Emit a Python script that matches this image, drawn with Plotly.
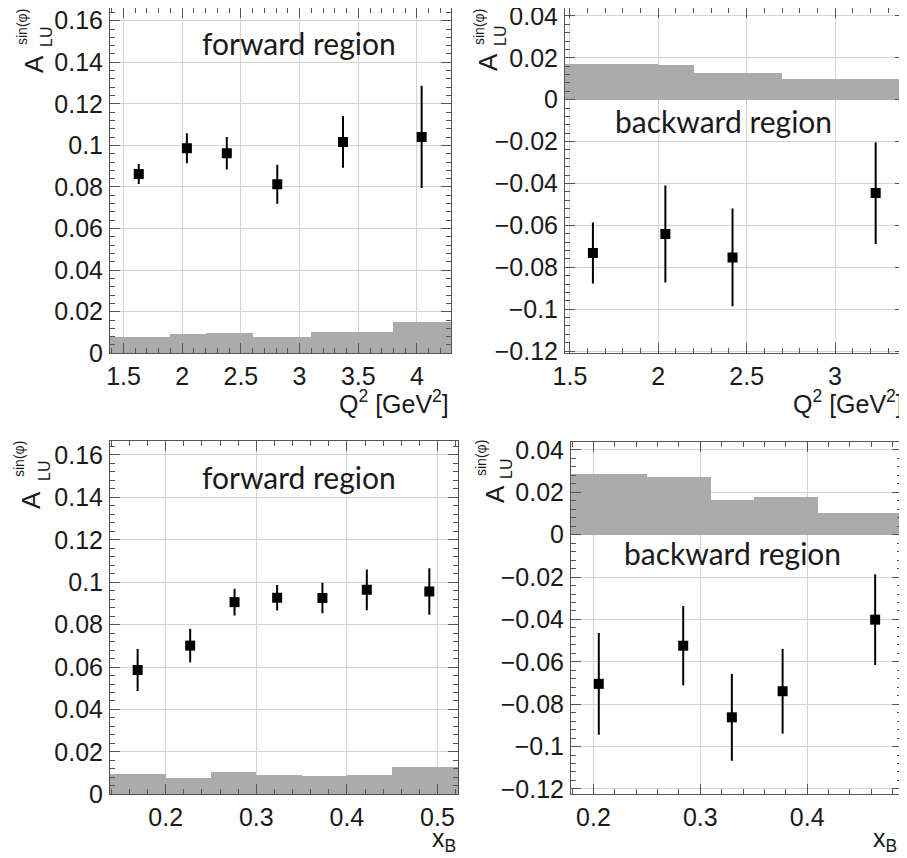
import numpy as np
import plotly.graph_objects as go

W, H = 907, 858
OFF = 8  # default page body margin in the browser

# ---------------- data ----------------
# Panel 1: forward region vs Q^2
q2_fwd_x = [1.63, 2.04, 2.38, 2.81, 3.37, 4.04]
q2_fwd_y = [0.0862, 0.0986, 0.0962, 0.0813, 0.1017, 0.1041]
q2_fwd_err = [0.0048, 0.0072, 0.0078, 0.0094, 0.0124, 0.0246]
q2_fwd_sys_edges = [1.38, 1.9, 2.2, 2.6, 3.1, 3.8, 4.3]
q2_fwd_sys = [0.0077, 0.0094, 0.0097, 0.0080, 0.0104, 0.0149]

# Panel 2: backward region vs Q^2
q2_bwd_x = [1.63, 2.04, 2.42, 3.23]
q2_bwd_y = [-0.0732, -0.0641, -0.0753, -0.0446]
q2_bwd_err = [0.0146, 0.0232, 0.0233, 0.0243]
q2_bwd_sys_edges = [1.46, 2.0, 2.2, 2.7, 3.41]
q2_bwd_sys = [0.0171, 0.0165, 0.0127, 0.0101]

# Panel 3: forward region vs xB
xb_fwd_x = [0.169, 0.227, 0.276, 0.323, 0.373, 0.422, 0.491]
xb_fwd_y = [0.0586, 0.0701, 0.0906, 0.0927, 0.0925, 0.0964, 0.0956]
xb_fwd_err = [0.0099, 0.0079, 0.0063, 0.0060, 0.0072, 0.0096, 0.0110]
xb_fwd_sys_edges = [0.137, 0.2, 0.25, 0.3, 0.35, 0.4, 0.45, 0.525]
xb_fwd_sys = [0.0099, 0.0078, 0.0107, 0.0091, 0.0086, 0.0094, 0.0130]

# Panel 4: backward region vs xB
xb_bwd_x = [0.205, 0.284, 0.3295, 0.377, 0.4636]
xb_bwd_y = [-0.0704, -0.0524, -0.0862, -0.0739, -0.0401]
xb_bwd_err = [0.0240, 0.0187, 0.0205, 0.0200, 0.0214]
xb_bwd_sys_edges = [0.178, 0.25, 0.31, 0.35, 0.41, 0.49]
xb_bwd_sys = [0.0288, 0.0272, 0.0163, 0.0181, 0.0104]

region_labels = ["forward region", "backward region", "forward region", "backward region"]
x_titles = ["Q<sup>2</sup> [GeV<sup>2</sup>]", "Q<sup>2</sup> [GeV<sup>2</sup>]", "x<sub>B</sub>", "x<sub>B</sub>"]

# ---------------- layout geometry (page pixels) ----------------
FW, FH = W - OFF, H - OFF

def px_x(p):
    return (p - OFF) / FW

def px_y(p):
    return 1 - (p - OFF) / FH

panels = [
    dict(xd=(110, 451), yd=(8, 353.3), xr=(1.385, 4.29), yr=(0, 0.1661), xdt=0.5, xt0=1.5, xmin=0.1,
         data=(q2_fwd_x, q2_fwd_y, q2_fwd_err, q2_fwd_sys_edges, q2_fwd_sys)),
    dict(xd=(565, 905), yd=(8, 352.7), xr=(1.472, 3.396), yr=(-0.1208, 0.0438), xdt=0.5, xt0=1.5, xmin=0.1,
         data=(q2_bwd_x, q2_bwd_y, q2_bwd_err, q2_bwd_sys_edges, q2_bwd_sys)),
    dict(xd=(110, 458.3), yd=(440.7, 794.3), xr=(0.1385, 0.523), yr=(0, 0.1667), xdt=0.1, xt0=0.2, xmin=0.02,
         data=(xb_fwd_x, xb_fwd_y, xb_fwd_err, xb_fwd_sys_edges, xb_fwd_sys)),
    dict(xd=(571, 902.3), yd=(441.7, 794), xr=(0.179, 0.489), yr=(-0.1224, 0.0439), xdt=0.1, xt0=0.2, xmin=0.02,
         data=(xb_bwd_x, xb_bwd_y, xb_bwd_err, xb_bwd_sys_edges, xb_bwd_sys)),
]

fig = go.Figure()

FONT = "Liberation Sans, Arial, Helvetica, sans-serif"
TICKFONT = dict(family=FONT, size=25, color="#1a1a1a")
FRAME = "#555555"
GRID = "#d4d4d4"

for i, p in enumerate(panels):
    n = "" if i == 0 else str(i + 1)
    xa, ya = "x" + n, "y" + n
    xs, ys, es, edges, sys = p["data"]
    edges = np.array(edges)
    centers = (edges[:-1] + edges[1:]) / 2
    widths = np.diff(edges)
    fig.add_trace(go.Bar(x=centers, y=sys, width=widths, base=0,
                         marker=dict(color="#ababab", line=dict(width=0)),
                         xaxis=xa, yaxis=ya, showlegend=False, hoverinfo="skip"))
    fig.add_trace(go.Scatter(x=xs, y=ys, mode="markers",
                             marker=dict(symbol="square", size=10, color="black"),
                             error_y=dict(type="data", array=es, color="black", thickness=2, width=0),
                             xaxis=xa, yaxis=ya, showlegend=False))

    common = dict(showline=True, linecolor=FRAME, linewidth=1, mirror="allticks",
                  ticks="inside", tickcolor=FRAME, tickwidth=1, ticklen=10,
                  showgrid=True, gridcolor=GRID, gridwidth=1, zeroline=False,
                  tickfont=TICKFONT, ticklabelstandoff=1, automargin=False,
                  ticklabeloverflow="allow")
    xaxis = dict(common, domain=[px_x(p["xd"][0]), px_x(p["xd"][1])], range=list(p["xr"]),
                 tick0=p["xt0"], dtick=p["xdt"], anchor=ya,
                 minor=dict(ticks="inside", ticklen=5, tickcolor=FRAME, dtick=p["xmin"], tick0=p["xt0"], showgrid=False))
    yaxis = dict(common, domain=[px_y(p["yd"][1]), px_y(p["yd"][0])], range=list(p["yr"]),
                 tick0=0, dtick=0.02, anchor=xa,
                 minor=dict(ticks="inside", ticklen=5, tickcolor=FRAME, dtick=0.004, tick0=0, showgrid=False))
    fig.update_layout({"xaxis" + n: xaxis, "yaxis" + n: yaxis})

ann = []
TITLEFONT = dict(family="Lato, Carlito, Open Sans, sans-serif", size=30, color="#1a1a1a")
label_pos = [(299, 43), (723, 121), (299, 477), (732, 553)]
for (cx, cy), txt in zip(label_pos, region_labels):
    ann.append(dict(x=px_x(cx), y=px_y(cy), xref="paper", yref="paper", text=txt, showarrow=False,
                    xanchor="center", yanchor="middle", font=TITLEFONT))

# x axis titles (right-aligned at panel right edge)
xt_pos = [(451, 402), (905, 402), (458, 840), (899, 840)]
for (rx, cy), txt in zip(xt_pos, x_titles):
    ann.append(dict(x=px_x(rx), y=px_y(cy), xref="paper", yref="paper", text=txt, showarrow=False,
                    xanchor="right", yanchor="middle", font=dict(family=FONT, size=25, color="#1a1a1a")))

# y axis titles: A_LU^{sin(phi)} built from stacked pieces
ylab = [
    dict(A=(34, 64), LU=(46, 37), S=(22, 27)),
    dict(A=(488, 62), LU=(500, 36), S=(479, 27)),
    dict(A=(31, 500), LU=(44, 471), S=(19, 459)),
    dict(A=(495, 494), LU=(506, 469), S=(481, 458)),
]
for d in ylab:
    ann.append(dict(x=px_x(d["A"][0]), y=px_y(d["A"][1]), xref="paper", yref="paper", text="A",
                    textangle=-90, showarrow=False, xanchor="center", yanchor="middle",
                    font=dict(family=FONT, size=26, color="#1a1a1a")))
    ann.append(dict(x=px_x(d["LU"][0]), y=px_y(d["LU"][1]), xref="paper", yref="paper", text="LU",
                    textangle=-90, showarrow=False, xanchor="center", yanchor="middle",
                    font=dict(family=FONT, size=16, color="#1a1a1a")))
    ann.append(dict(x=px_x(d["S"][0]), y=px_y(d["S"][1]), xref="paper", yref="paper", text="sin(φ)",
                    textangle=-90, showarrow=False, xanchor="center", yanchor="middle",
                    font=dict(family=FONT, size=14, color="#1a1a1a")))

fig.update_layout(width=FW, height=FH, margin=dict(l=0, r=0, t=0, b=0, autoexpand=False),
                  paper_bgcolor="white", plot_bgcolor="white", annotations=ann,
                  barmode="overlay", bargap=0)

fig.write_html("out.html")
